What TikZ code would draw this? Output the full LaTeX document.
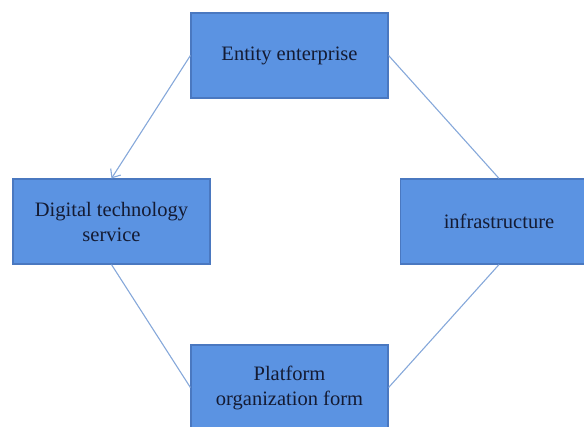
\documentclass[tikz,border=0pt]{standalone}
\usepackage{fontspec}
\setmainfont{Liberation Serif}
\usetikzlibrary{arrows.meta}
\definecolor{boxfill}{HTML}{5B93E2}
\definecolor{boxline}{HTML}{4A78C0}
\definecolor{linkcol}{HTML}{86A8DA}
\definecolor{txtcol}{HTML}{141B33}
\tikzset{
	block/.style={rectangle, draw=boxline, fill=boxfill, line width=1.2pt, minimum width=197pt, minimum height=85pt, align=center, text=txtcol, font=\fontsize{20.5}{25}\selectfont},
	link/.style={draw=linkcol, line width=1.1pt}
}
\begin{document}
\begin{tikzpicture}[x=1pt,y=-1pt]
	\useasboundingbox (0,0) rectangle (584,426);
	\node[block] (ent) at (289.5,55.5) {Entity enterprise};
	\node[block] (dig) at (111.5,221.5) {Digital technology\\service};
	\node[block] (inf) at (499,221.5) {infrastructure};
	\node[block] (plat) at (289.5,387.5) {Platform\\organization form};
	\draw[link,-{Straight Barb[length=7pt,width=12pt]}] (ent.west) -- (dig.north);
	\draw[link] (ent.east) -- (inf.north);
	\draw[link] (dig.south) -- (plat.west);
	\draw[link] (inf.south) -- (plat.east);
\end{tikzpicture}
\end{document}
